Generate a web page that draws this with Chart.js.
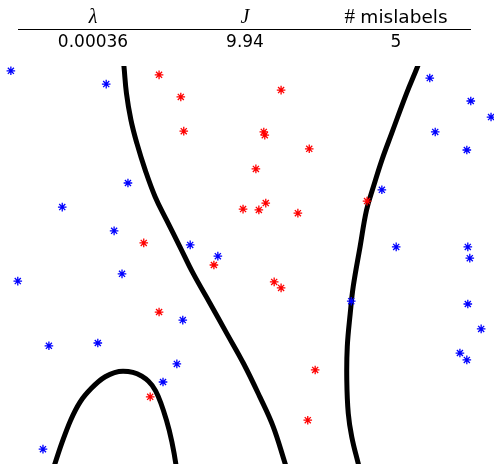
<!DOCTYPE html>
<html>
<head>
<meta charset="utf-8">
<script src="https://cdn.jsdelivr.net/npm/chart.js@4.4.0/dist/chart.umd.min.js"></script>
<style>
  html, body { margin: 0; padding: 0; background: #fff; }
  #wrap { position: relative; width: 494px; height: 464px; overflow: hidden; }
  #plot { position: absolute; left: 0; top: 0; }
  .cell { position: absolute; transform: translateX(-50%); white-space: nowrap;
          font-family: "DejaVu Sans", sans-serif; font-size: 17px; line-height: 1; color: #000; }
  .math { font-family: "Liberation Serif", "DejaVu Serif", serif; font-style: italic; font-size: 20px; }
  .hash { font-family: "Liberation Serif", "DejaVu Serif", serif; font-size: 21px; }
  .word { font-size: 18.5px; }
  #rule { position: absolute; left: 18px; top: 28.5px; width: 453px; height: 1.2px; background: #000; }
</style>
</head>
<body>
<div id="wrap">
  <canvas id="plot" width="494" height="464"></canvas>
  <div id="hdr"></div>
  <div id="rule"></div>
</div>
<script>
// Summary table above the plot
const tableHeads = ["λ", "J", "# mislabels"];
const tableValues = ["0.00036", "9.94", "5"];

// Class A samples (blue)
const blueX = [2.2, 21.5, 25.9, 12.6, 23.1, 38.5, 44.1, 87.0, 95.3, 99.4, 88.1, 94.5, 77.3, 80.2, 94.7,
               95.1, 3.6, 24.7, 37.0, 9.9, 19.8, 35.8, 33.0, 8.7, 71.1, 94.7, 97.4, 93.1, 94.5];
const blueY = [97.8, 94.5, 69.9, 63.9, 58.0, 54.5, 51.7, 96.0, 90.3, 86.3, 82.6, 78.1, 68.2, 54.0, 54.0,
               51.2, 45.5, 47.3, 35.8, 29.4, 30.1, 24.9, 20.4, 3.7, 40.5, 39.8, 33.6, 27.6, 25.9];

// Class B samples (red)
const redX = [32.2, 36.6, 37.2, 49.2, 29.1, 56.9, 53.4, 53.6, 62.6, 51.8, 53.8, 52.4, 60.3, 74.3, 43.3,
              32.2, 30.4, 55.5, 56.9, 63.8, 62.3];
const redY = [96.8, 91.3, 82.8, 63.4, 55.0, 93.0, 82.6, 81.8, 78.4, 73.4, 64.9, 63.2, 62.4, 65.4, 49.5,
              37.8, 16.7, 45.3, 43.8, 23.4, 10.9];

// Decision boundary branches
const boundaryA = [[24.9, 101], [25.1, 98.8], [25.6, 92.2], [26.5, 85.6], [27.7, 79.8], [29.4, 73.1],
                   [31.4, 66.5], [33.7, 60.7], [36.4, 54.1], [39.1, 47.4], [42.5, 40.0], [45.9, 32.5],
                   [49.3, 25.0], [52.6, 16.7], [55.3, 9.3], [57.7, 0.2], [58.3, -2]];
const boundaryB = [[85.1, 101], [84.5, 98.8], [82.3, 92.2], [79.3, 82.3], [77.3, 75.6], [75.6, 69.0],
                   [74.2, 63.2], [72.9, 54.1], [71.5, 44.1], [70.9, 37.5], [70.3, 29.2], [70.2, 20.9],
                   [70.5, 12.6], [71.2, 6.8], [72.5, 0.2], [73.0, -2]];
const boundaryC = [[10.6, -2], [11.1, 0], [12.6, 5.5], [14.3, 10.9], [16.2, 15.4], [18.4, 18.7],
                   [21.3, 21.7], [24.9, 23.1], [28.5, 22.0], [31.5, 18.2], [33.7, 10.9], [34.8, 5.5],
                   [35.6, 0], [35.8, -2]];

// Table layout: column centres and rows
const colCenters = [93, 245, 396];
const hdr = document.getElementById('hdr');
tableHeads.forEach((h, i) => {
  const d = document.createElement('div');
  d.className = 'cell';
  d.style.left = colCenters[i] + 'px';
  d.style.top = '6px';
  if (h.startsWith('#')) {
    d.innerHTML = '<span class="hash">#</span> <span class="word">' + h.slice(2) + '</span>';
  } else {
    d.innerHTML = '<span class="math">' + h + '</span>';
  }
  hdr.appendChild(d);
});
tableValues.forEach((v, i) => {
  const d = document.createElement('div');
  d.className = 'cell';
  d.style.left = colCenters[i] + 'px';
  d.style.top = '33px';
  d.textContent = v;
  hdr.appendChild(d);
});

const toPts = (xs, ys) => xs.map((x, i) => ({ x: x, y: ys[i] }));
const toCurve = arr => arr.map(p => ({ x: p[0], y: p[1] }));

// Markers sit above the boundary lines (lower order is drawn last)
const markerStyle = color => ({
  pointStyle: 'star', pointRadius: 4.3, pointBorderWidth: 1.3,
  borderColor: color, backgroundColor: color, pointHoverRadius: 4.3,
  showLine: false, clip: false, order: 0
});
const curveStyle = {
  showLine: true, borderColor: '#000', borderWidth: 5, pointRadius: 0,
  fill: false, clip: 0, borderCapStyle: 'butt', borderJoinStyle: 'round', order: 1
};

new Chart(document.getElementById('plot'), {
  type: 'scatter',
  data: {
    datasets: [
      Object.assign({ label: 'blue', data: toPts(blueX, blueY) }, markerStyle('#0000ff')),
      Object.assign({ label: 'red', data: toPts(redX, redY) }, markerStyle('#ff0000')),
      Object.assign({ label: 'A', data: toCurve(boundaryA), tension: 0.4 }, curveStyle),
      Object.assign({ label: 'B', data: toCurve(boundaryB), tension: 0.4 }, curveStyle),
      Object.assign({ label: 'C', data: toCurve(boundaryC), cubicInterpolationMode: 'monotone' }, curveStyle)
    ]
  },
  options: {
    responsive: false,
    animation: false,
    layout: { autoPadding: false, padding: { top: 66, left: 0, right: 0, bottom: 0 } },
    plugins: { legend: { display: false }, tooltip: { enabled: false } },
    scales: {
      x: { type: 'linear', min: 0, max: 100, display: false },
      y: { type: 'linear', min: 0, max: 99.0, display: false }
    }
  }
});
</script>
</body>
</html>
